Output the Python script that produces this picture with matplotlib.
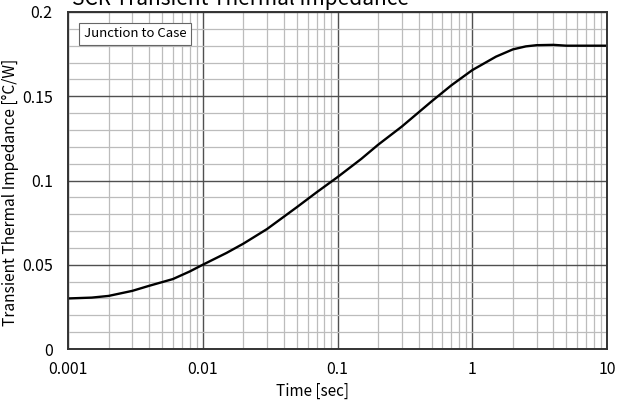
import matplotlib
matplotlib.use("Agg")
import matplotlib.pyplot as plt
from matplotlib.ticker import FixedLocator, NullFormatter

time_s = [0.001, 0.0015, 0.002, 0.003, 0.004, 0.006, 0.008, 0.01, 0.015, 0.02,
          0.03, 0.05, 0.07, 0.1, 0.15, 0.2, 0.3, 0.5, 0.7, 1.0, 1.5, 2.0, 2.5,
          3.0, 4.0, 5.0, 7.0, 10.0]
zth = [0.0300, 0.0305, 0.0315, 0.0345, 0.0375, 0.0415, 0.0460, 0.0500, 0.0570,
       0.0625, 0.0712, 0.0842, 0.0930, 0.1020, 0.1128, 0.1212, 0.1320, 0.1470,
       0.1565, 0.1655, 0.1735, 0.1778, 0.1796, 0.1803, 0.1805, 0.1800, 0.1800,
       0.1800]
x_ticks = [0.001, 0.01, 0.1, 1, 10]
x_labels = ["0.001", "0.01", "0.1", "1", "10"]
y_ticks = [0, 0.05, 0.1, 0.15, 0.2]
y_labels = ["0", "0.05", "0.1", "0.15", "0.2"]

plt.rcParams['font.family'] = ['Noto Sans CJK JP', 'DejaVu Sans']

W, H = 618, 405
fig = plt.figure(figsize=(W / 100, H / 100), dpi=100)
L, R, T, B = 68, 607, 12, 349
ax = fig.add_axes([L / W, 1 - B / H, (R - L) / W, (B - T) / H])

ax.set_xscale('log')
ax.set_xlim(0.001, 10)
ax.set_ylim(0, 0.2)

minor_x = [m * 10.0 ** e for e in range(-3, 1) for m in range(2, 10)]
minor_y = [i / 100 for i in range(21) if i % 5 != 0]
ax.xaxis.set_major_locator(FixedLocator(x_ticks))
ax.xaxis.set_minor_locator(FixedLocator(minor_x))
ax.xaxis.set_minor_formatter(NullFormatter())
ax.yaxis.set_major_locator(FixedLocator(y_ticks))
ax.yaxis.set_minor_locator(FixedLocator(minor_y))
ax.set_xticklabels(x_labels)
ax.set_yticklabels(y_labels)

ax.grid(which='minor', color='#bcbcbc', lw=0.9)
ax.grid(which='major', color='#505050', lw=1.0)
ax.set_axisbelow(True)
ax.tick_params(which='both', length=0, labelsize=11.5, colors='black')
ax.tick_params(axis='y', pad=11)
ax.tick_params(axis='x', pad=9)

for s in ax.spines.values():
    s.set_linewidth(1.4)
    s.set_color('#333333')

ax.plot(time_s, zth, color='black', lw=1.7, solid_capstyle='round')

ax.text(0.029, 0.955, "Junction to Case", transform=ax.transAxes, fontsize=9.5,
        va='top', ha='left',
        bbox=dict(boxstyle='square,pad=0.35', fc='white', ec='#666666', lw=0.8))

fig.text(72 / W, 1 - 5 / H, "SCR Transient Thermal Impedance", fontsize=15,
         ha='left', va='baseline')
fig.text(10 / W, 1 - 192 / H, "Transient Thermal Impedance [°C/W]", fontsize=11.2,
         rotation=90, ha='center', va='center')
fig.text(313 / W, 1 - 391 / H, "Time [sec]", fontsize=11, ha='center', va='center')

fig.savefig("out.png", dpi=100)
